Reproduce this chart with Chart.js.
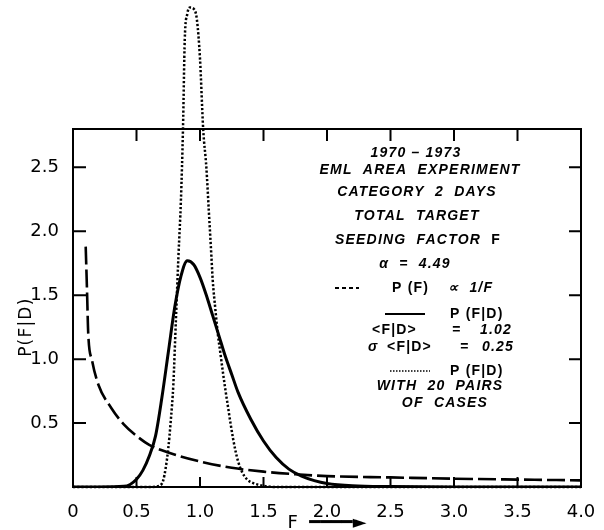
<!DOCTYPE html>
<html>
<head>
<meta charset="utf-8">
<script src="https://cdn.jsdelivr.net/npm/chart.js@4.4.1/dist/chart.umd.min.js"></script>
<style>
  html, body { margin: 0; background: #fff; }
  #wrap { position: relative; width: 604px; height: 530px; }
</style>
</head>
<body>
<div id="wrap"><canvas id="chart"></canvas></div>
<script>
// values: F on x, P(F|D) on y
const solidF = [0, 0.2, 0.4, 0.45, 0.5, 0.55, 0.6, 0.65, 0.7, 0.75, 0.8, 0.85, 0.9, 0.95, 1.0, 1.05, 1.1, 1.15, 1.2, 1.25, 1.3, 1.4, 1.5, 1.6, 1.7, 1.8, 1.9, 2.0, 2.2, 2.5, 3.0, 4.0];
const solidP = [0, 0, 0.005, 0.02, 0.06, 0.13, 0.24, 0.4, 0.7, 1.05, 1.4, 1.65, 1.77, 1.74, 1.64, 1.5, 1.34, 1.18, 1.02, 0.88, 0.74, 0.53, 0.36, 0.23, 0.14, 0.085, 0.05, 0.028, 0.01, 0.003, 0, 0];

const dotF = [0, 0.6, 0.68, 0.71, 0.73, 0.75, 0.77, 0.79, 0.81, 0.83, 0.85, 0.866, 0.88, 0.9, 0.92, 0.95, 0.975, 1.0, 1.025, 1.05, 1.07, 1.09, 1.1, 1.12, 1.14, 1.16, 1.18, 1.2, 1.22, 1.24, 1.26, 1.28, 1.3, 1.33, 1.37, 1.42, 1.5, 1.6, 4.0];
const dotP = [0, 0, 0.01, 0.05, 0.15, 0.3, 0.52, 0.8, 1.3, 1.8, 2.25, 2.8, 3.5, 3.7, 3.75, 3.74, 3.66, 3.35, 2.8, 2.5, 2.15, 1.8, 1.62, 1.4, 1.2, 1.05, 0.9, 0.76, 0.63, 0.5, 0.38, 0.28, 0.2, 0.12, 0.06, 0.03, 0.01, 0, 0];

const dashF = [0.1, 0.11, 0.12, 0.15, 0.2, 0.3, 0.4, 0.5, 0.6, 0.75, 1.0, 1.25, 1.5, 1.75, 2.0, 2.5, 3.0, 3.5, 4.0];
const dashP = [1.88, 1.55, 1.2, 0.99, 0.8, 0.62, 0.49, 0.4, 0.33, 0.27, 0.2, 0.15, 0.12, 0.1, 0.085, 0.075, 0.065, 0.058, 0.052];

const xTicks = [0, 0.5, 1.0, 1.5, 2.0, 2.5, 3.0, 3.5, 4.0];
const xTickLabels = ['0', '0.5', '1.0', '1.5', '2.0', '2.5', '3.0', '3.5', '4.0'];
const yTicks = [0.5, 1.0, 1.5, 2.0, 2.5];
const yTickLabels = ['0.5', '1.0', '1.5', '2.0', '2.5'];

// annotation lines; "^" = upright text, "#" = line sample
const notes = [
  ['1970 – 1973'],
  ['EML  AREA  EXPERIMENT'],
  ['CATEGORY  2  DAYS'],
  ['TOTAL  TARGET'],
  ['SEEDING  FACTOR  ', '^F'],
  ['α  =  4.49'],
  ['#dash', '^P (F)', '∝  1/F'],
  ['#solid', '^P (F|D)'],
  ['^<F|D>', '=', '1.02'],
  ['σ', '^<F|D>', '=', '0.25'],
  ['#dot', '^P (F|D)'],
  ['WITH  20  PAIRS'],
  ['OF  CASES']
];

const pts = (xs, ys) => xs.map((v, i) => ({ x: v, y: ys[i] }));

const AXIS_FONT = '"DejaVu Sans", sans-serif';
const NOTE_FONT = '"Liberation Sans", Arial, sans-serif';

const frame = {
  id: 'frame',
  afterDraw(chart) {
    const { ctx, chartArea: a, scales: { x, y } } = chart;
    ctx.save();
    ctx.strokeStyle = '#000';
    ctx.lineWidth = 2;
    ctx.strokeRect(a.left, a.top, a.right - a.left, a.bottom - a.top);
    ctx.beginPath();
    xTicks.forEach(v => {
      if (v <= 0 || v >= 4) return;
      const px = x.getPixelForValue(v);
      ctx.moveTo(px, a.top); ctx.lineTo(px, a.top + 12);
      ctx.moveTo(px, a.bottom); ctx.lineTo(px, a.bottom - 10);
    });
    yTicks.forEach(v => {
      const py = y.getPixelForValue(v);
      ctx.moveTo(a.left, py); ctx.lineTo(a.left + 13, py);
      ctx.moveTo(a.right, py); ctx.lineTo(a.right - 12, py);
    });
    ctx.stroke();

    // y title
    ctx.save();
    ctx.translate(27, y.getPixelForValue(1.25));
    ctx.rotate(-Math.PI / 2);
    ctx.font = '17px ' + AXIS_FONT;
    ctx.letterSpacing = '1.2px';
    ctx.fillStyle = '#000';
    ctx.textAlign = 'center';
    ctx.textBaseline = 'middle';
    ctx.fillText('P(F|D)', 0, 0);
    ctx.restore();

    // annotation block: row offsets from the top of the plot, and either a
    // centre (one number) or a start for every piece (list), from the left edge
    const rows = [24, 41, 63, 87, 111, 135, 159, 185, 201, 218, 242, 257, 274];
    const place = [343, 347, 344, 344, 345, 342,
      [262, 319, 375],
      [312, 377],
      [299, 379, 407],
      [295, 314, 387, 409],
      [317, 377],
      367, 372];
    const italic = 'italic bold 14px ' + NOTE_FONT;
    const upright = 'bold 14px ' + NOTE_FONT;
    ctx.textBaseline = 'middle';
    ctx.textAlign = 'left';
    ctx.fillStyle = '#000';
    ctx.letterSpacing = '1.2px';
    const fontOf = s => (s[0] === '^' ? upright : italic);
    const textOf = s => (s[0] === '^' ? s.slice(1) : s);
    notes.forEach((segs, i) => {
      const cy = a.top + rows[i];
      let starts = place[i];
      if (!Array.isArray(starts)) {
        const widths = segs.map(s => { ctx.font = fontOf(s); return ctx.measureText(textOf(s)).width; });
        const total = widths.reduce((p, c) => p + c, 0);
        let sx = starts - total / 2;
        starts = widths.map(w => { const v = sx; sx += w; return v; });
      }
      segs.forEach((s, j) => {
        const sx = a.left + starts[j];
        if (s[0] === '#') {
          const len = s === '#dash' ? 24 : 40;
          ctx.beginPath();
          ctx.lineWidth = s === '#dot' ? 1.6 : 2;
          ctx.setLineDash(s === '#dash' ? [4, 3] : s === '#dot' ? [1.5, 1.5] : []);
          ctx.moveTo(sx, cy); ctx.lineTo(sx + len, cy);
          ctx.stroke();
          ctx.setLineDash([]);
        } else {
          ctx.font = fontOf(s);
          ctx.fillText(textOf(s), sx, cy);
        }
      });
    });
    ctx.restore();
  }
};

new Chart(document.getElementById('chart'), {
  type: 'line',
  data: {
    datasets: [
      {
        label: 'P(F|D)',
        data: pts(solidF, solidP),
        borderColor: '#000',
        borderWidth: 3,
        cubicInterpolationMode: 'monotone'
      },
      {
        label: 'P(F|D) with 20 pairs',
        data: pts(dotF, dotP),
        borderColor: '#000',
        borderWidth: 2.5,
        borderDash: [2.2, 2],
        cubicInterpolationMode: 'monotone',
        clip: false
      },
      {
        label: 'P(F) ∝ 1/F',
        data: pts(dashF, dashP),
        borderColor: '#000',
        borderWidth: 2.6,
        borderDash: [18, 5],
        cubicInterpolationMode: 'monotone'
      }
    ]
  },
  options: {
    responsive: true,
    maintainAspectRatio: false,
    animation: false,
    events: [],
    layout: { padding: { top: 129, right: 23, left: 0, bottom: 0 } },
    elements: { point: { radius: 0 } },
    plugins: { legend: { display: false }, tooltip: { enabled: false } },
    scales: {
      x: {
        type: 'linear',
        min: 0,
        max: 4,
        afterFit: s => { s.height = 43; },
        afterBuildTicks: s => { s.ticks = xTicks.map(v => ({ value: v })); },
        grid: { display: false },
        border: { display: false },
        ticks: {
          color: '#000',
          font: { family: AXIS_FONT, size: 18 },
          padding: 7,
          maxRotation: 0,
          autoSkip: false,
          callback: v => xTickLabels[xTicks.indexOf(v)] ?? ''
        },
        title: {
          display: true,
          text: 'F  ━━━━►',
          color: '#000',
          font: { family: AXIS_FONT, size: 18 },
          padding: { top: 0, bottom: -4 }
        }
      },
      y: {
        min: 0,
        max: 2.8,
        afterFit: s => { s.width = 73; },
        afterBuildTicks: s => { s.ticks = yTicks.map(v => ({ value: v })); },
        grid: { display: false },
        border: { display: false },
        ticks: {
          color: '#000',
          font: { family: AXIS_FONT, size: 18 },
          padding: 6,
          callback: v => yTickLabels[yTicks.indexOf(v)] ?? ''
        }
      }
    }
  },
  plugins: [frame]
});
</script>
</body>
</html>
